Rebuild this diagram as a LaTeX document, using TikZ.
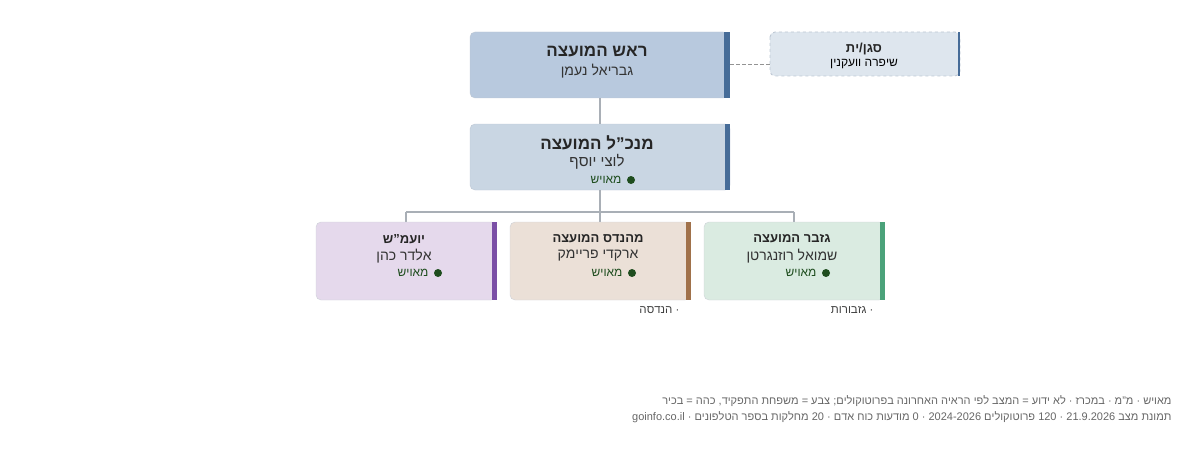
\documentclass[tikz,border=0pt]{standalone}
\usepackage{fontspec}
\setmainfont{Liberation Sans}
\TeXXeTstate=1
\newcommand{\RL}[1]{\beginR #1\endR}
\definecolor{dotc}{HTML}{1E4D1E}
\definecolor{lnc}{HTML}{A9AFB6}
\begin{document}
\begin{tikzpicture}[x=1pt,y=-1pt,
 ttl/.style={font=\bfseries\fontsize{13}{15}\selectfont,text=black!85},
 nm/.style={font=\fontsize{14}{16}\selectfont,text=black!80},
 st/.style={font=\fontsize{12}{14}\selectfont,text=dotc,anchor=east},
 dot/.style={circle,fill=dotc,inner sep=0pt,minimum size=8pt},
 ft/.style={font=\fontsize{11}{13}\selectfont,text=black!60,anchor=east},
 ln/.style={draw=lnc,line width=1.2pt}]
\useasboundingbox (0,0) rectangle (1200,452);
% top
\fill[color={rgb,255:red,184;green,201;blue,222},rounded corners=5pt] (470,32) rectangle (728,98);
\draw[draw={rgb,255:red,190;green,200;blue,212},rounded corners=5pt] (470,32) rectangle (728,98);
\fill[color={rgb,255:red,70;green,108;blue,152}] (724,32) rectangle (730,98);
\node[ttl,font=\bfseries\fontsize{17}{19}\selectfont] (t1) at (597,52) {\RL{ראש המועצה}};
\node[nm] (t2) at (597,71) {\RL{גבריאל נעמן}};
% deputy
\fill[color={rgb,255:red,222;green,230;blue,238},rounded corners=5pt] (770,32) rectangle (960,76);
\draw[dashed,draw={rgb,255:red,190;green,200;blue,212},line width=0.9pt,rounded corners=5pt] (770,32) rectangle (960,76);
\fill[color={rgb,255:red,70;green,108;blue,152}] (957.5,32) rectangle (960,76);
\node[ttl] (d1) at (864,49) {\RL{סגן/ית}};
\node[font=\fontsize{12}{14}\selectfont] (d2) at (864,64) {\RL{שיפרה וועקנין}};
\coordinate (dl) at (770,65);
\coordinate (tr) at (730,65);
\draw[dash pattern=on 4pt off 2pt,draw=gray!85,line width=1pt] (tr) -- (dl);
% ceo
\fill[color={rgb,255:red,201;green,214;blue,227},rounded corners=5pt] (470,124) rectangle (730,190);
\draw[draw={rgb,255:red,190;green,200;blue,212},rounded corners=5pt] (470,124) rectangle (730,190);
\fill[color={rgb,255:red,70;green,108;blue,152}] (725,124) rectangle (730,190);
\node[ttl,font=\bfseries\fontsize{17}{19}\selectfont] (c1) at (597,143) {\RL{מנכ"ל המועצה}};
\node[nm,font=\fontsize{15}{17}\selectfont] (c2) at (597,162) {\RL{לוצי יוסף}};
\node[dot] (c4) at (631,180) {};
\node[st] (c3) at (625,180) {\RL{מאויש}};
% connectors
\coordinate (a1) at (600,98); \coordinate (a2) at (600,124);
\draw[ln] (a1) -- (a2);
\coordinate (b1) at (600,190); \coordinate (b2) at (600,212);
\coordinate (h1) at (406,212); \coordinate (h2) at (794,212);
\draw[ln] (b1) -- (b2);
\draw[ln] (h1) -- (h2);
\draw[ln] (h1) -- (406,222);
\draw[ln] (b2) -- (600,222);
\draw[ln] (h2) -- (794,222);
% children
\foreach \x/\fc/\bc/\t/\n/\nn in {316/{229,217,236}/{123,79,166}/{יועמ"ש}/{אלדר כהן}/k1,
 510/{235,224,215}/{160,113,74}/{מהנדס המועצה}/{ארקדי פריימק}/k2,
 704/{218,235,225}/{75,162,122}/{גזבר המועצה}/{שמואל רוזנגרטן}/k3}{
 \definecolor{fcx}{RGB}{\fc}\definecolor{bcx}{RGB}{\bc}
 \fill[fcx,rounded corners=5pt] (\x,222) rectangle +(180,78);
 \draw[draw={rgb,255:red,205;green,210;blue,215},rounded corners=5pt] (\x,222) rectangle +(180,78);
 \fill[bcx] (\x+176,222) rectangle +(4.5,78);
 \node[ttl] (\nn a) at (\x+88,239) {\RL{\t}};
 \node[nm] (\nn b) at (\x+88,256) {\RL{\n}};
 \node[dot] (\nn d) at (\x+122,273) {};
 \node[st] (\nn c) at (\x+116,273) {\RL{מאויש}};
}
\node[font=\fontsize{11.5}{14}\selectfont,text=black!75,anchor=east] (u1) at (683,310) {\RL{· הנדסה}};
\node[font=\fontsize{11.5}{14}\selectfont,text=black!75,anchor=east] (u2) at (877,310) {\RL{· גזבורות}};
% footer
\node[ft] (f1) at (1175,401) {\RL{מאויש · מ"מ · במכרז · לא ידוע = המצב לפי הראיה האחרונה בפרוטוקולים; צבע = משפחת התפקיד, כהה = בכיר}};
\node[ft] (f2) at (1175,417) {\RL{תמונת מצב 21.9.2026 · 120 פרוטוקולים 2024-2026 · 0 מודעות כוח אדם · 20 מחלקות בספר הטלפונים · goinfo.co.il}};
\end{tikzpicture}
\end{document}
